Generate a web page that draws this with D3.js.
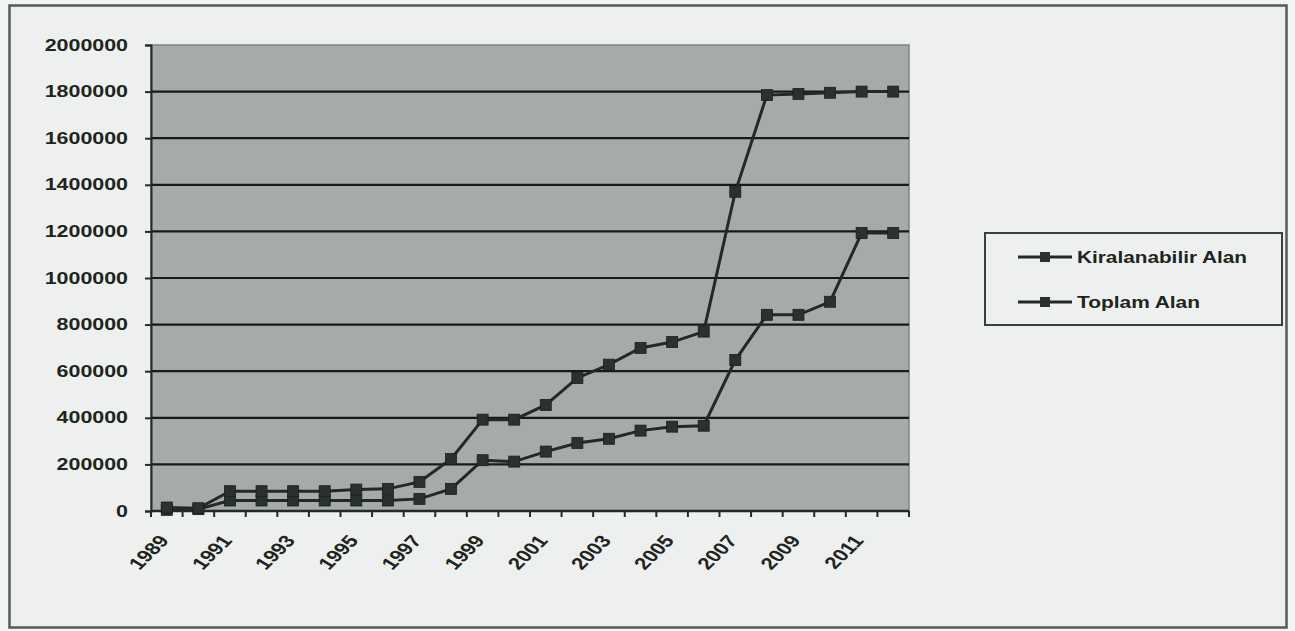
<!DOCTYPE html>
<html>
<head>
<meta charset="utf-8">
<script src="https://cdn.jsdelivr.net/npm/d3@7"></script>
<style>
  html, body { margin: 0; padding: 0; background: #f3f4f4; }
  svg { display: block; }
  text { font-family: "Liberation Sans", Arial, sans-serif; font-weight: bold; fill: #1e2420; }
</style>
</head>
<body>
<svg id="chart" width="1295" height="631"></svg>
<script>
const years = ["1989","1990","1991","1992","1993","1994","1995","1996","1997","1998","1999","2000",
               "2001","2002","2003","2004","2005","2006","2007","2008","2009","2010","2011","2012"];
const xLabels = ["1989","1991","1993","1995","1997","1999","2001","2003","2005","2007","2009","2011"];
const yTicks = [0, 200000, 400000, 600000, 800000, 1000000, 1200000, 1400000, 1600000, 1800000, 2000000];
const seriesNames = ["Kiralanabilir Alan", "Toplam Alan"];
const kiralanabilir = [5000, 8000, 45000, 45000, 45000, 45000, 45000, 45000, 52000, 95000, 218000, 212000,
                       255000, 292000, 310000, 345000, 362000, 366000, 648000, 842000, 842000, 898000, 1193000, 1193000];
const toplam = [15000, 12000, 85000, 85000, 85000, 85000, 92000, 95000, 125000, 223000, 392000, 392000,
                455000, 571000, 628000, 700000, 725000, 770000, 1370000, 1785000, 1790000, 1795000, 1800000, 1800000];

const svg = d3.select("#chart");
const ink = "#222a25";
const plot = {left: 151, right: 909, top: 45, bottom: 511};

// outer frame
svg.append("rect").attr("x", 9.5).attr("y", 5.5).attr("width", 1277).attr("height", 622)
  .attr("fill", "#eef0ef").attr("stroke", "#555b58").attr("stroke-width", 2.5);

const x = d3.scaleBand().domain(years).range([plot.left, plot.right]);
const y = d3.scaleLinear().domain([0, 2000000]).range([plot.bottom, plot.top]);

// plot background
svg.append("rect").attr("x", plot.left).attr("y", plot.top)
  .attr("width", plot.right - plot.left).attr("height", plot.bottom - plot.top)
  .attr("fill", "#a6aba7").attr("stroke", "#7e8480").attr("stroke-width", 1.5);

// gridlines
svg.append("g").selectAll("line").data(yTicks.filter(v => v > 0 && v < 2000000)).join("line")
  .attr("x1", plot.left).attr("x2", plot.right)
  .attr("y1", d => y(d)).attr("y2", d => y(d))
  .attr("stroke", "#161a18").attr("stroke-width", 2.2);

// y axis
const fmt = d3.format("d");
const yAxis = svg.append("g").attr("transform", `translate(${plot.left},0)`)
  .call(d3.axisLeft(y).tickValues(yTicks).tickSize(6).tickPadding(17).tickFormat(fmt));
yAxis.select(".domain").attr("stroke", ink).attr("stroke-width", 2);
yAxis.selectAll(".tick line").attr("stroke", ink).attr("stroke-width", 2);
yAxis.selectAll(".tick text")
  .attr("font-size", 16).attr("font-family", "Liberation Sans, Arial, sans-serif")
  .attr("font-weight", "bold").attr("fill", "#1e2420")
  .attr("textLength", d => fmt(d).length * 11.9).attr("lengthAdjust", "spacingAndGlyphs");

// x axis line + boundary ticks
const xg = svg.append("g");
xg.append("line").attr("x1", plot.left).attr("x2", plot.right)
  .attr("y1", plot.bottom).attr("y2", plot.bottom).attr("stroke", ink).attr("stroke-width", 2.5);
const bounds = years.map(d => x(d)).concat([x(years[years.length - 1]) + x.bandwidth()]);
xg.selectAll("line.tk").data(bounds).join("line").attr("class", "tk")
  .attr("x1", d => d).attr("x2", d => d)
  .attr("y1", plot.bottom).attr("y2", plot.bottom + 6)
  .attr("stroke", ink).attr("stroke-width", 2);

// x labels
xg.selectAll("text.xl").data(xLabels).join("text").attr("class", "xl")
  .attr("transform", d => `translate(${x(d) + x.bandwidth() / 2 + 3},${plot.bottom + 30}) scale(1.3,1) rotate(-52)`)
  .attr("text-anchor", "end").attr("font-size", 17).text(d => d);

// series
const line = d3.line().x((d, i) => x(years[i]) + x.bandwidth() / 2).y(d => y(d));
[kiralanabilir, toplam].forEach(vals => {
  svg.append("path").datum(vals).attr("d", line)
    .attr("fill", "none").attr("stroke", ink).attr("stroke-width", 3);
  svg.append("g").selectAll("rect").data(vals).join("rect")
    .attr("x", (d, i) => x(years[i]) + x.bandwidth() / 2 - 5.5)
    .attr("y", d => y(d) - 5.5)
    .attr("width", 11).attr("height", 11)
    .attr("fill", "#2a322d").attr("stroke", "#1a201c").attr("stroke-width", 0.8);
});

// legend
const lg = svg.append("g");
lg.append("rect").attr("x", 985).attr("y", 233).attr("width", 297).attr("height", 92)
  .attr("fill", "none").attr("stroke", "#3a403c").attr("stroke-width", 2);
const lgY = [257, 302];
const lgLen = [170, 123];
seriesNames.forEach((name, i) => {
  lg.append("line").attr("x1", 1018).attr("x2", 1072).attr("y1", lgY[i]).attr("y2", lgY[i])
    .attr("stroke", ink).attr("stroke-width", 3);
  lg.append("rect").attr("x", 1040).attr("y", lgY[i] - 5).attr("width", 10).attr("height", 10)
    .attr("fill", "#2a322d");
  lg.append("text").attr("x", 1077).attr("y", lgY[i] + 6).attr("font-size", 16)
    .attr("textLength", lgLen[i]).attr("lengthAdjust", "spacingAndGlyphs").text(name);
});
</script>
</body>
</html>
